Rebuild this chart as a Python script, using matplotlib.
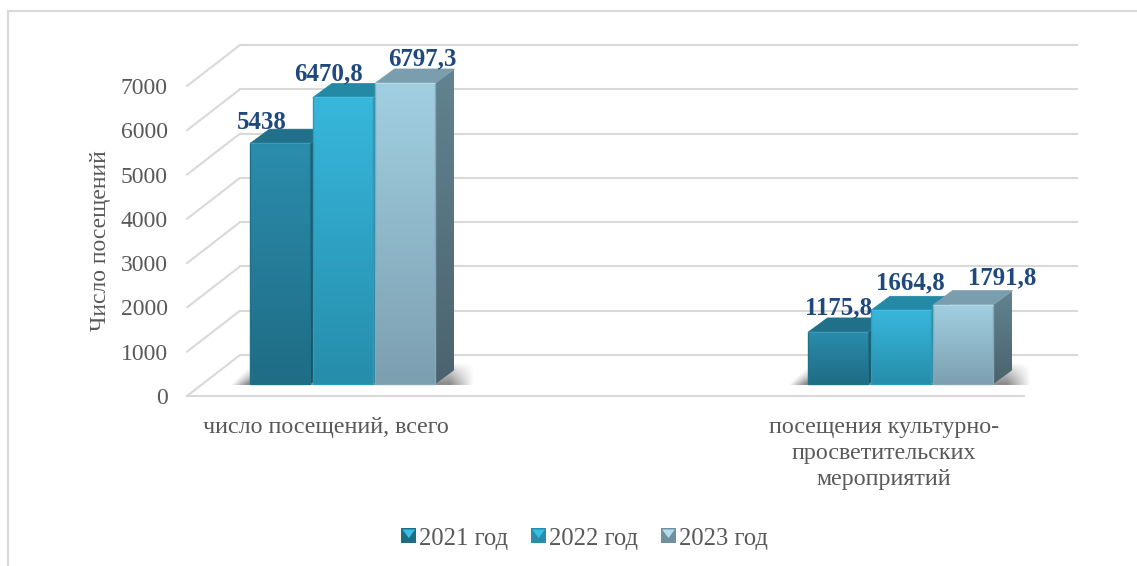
import numpy as np
import matplotlib
matplotlib.use("Agg")
import matplotlib.pyplot as plt
from matplotlib.colors import LinearSegmentedColormap
from matplotlib.lines import Line2D
from matplotlib.patches import Polygon, Patch, Rectangle
from matplotlib.legend_handler import HandlerPatch

categories = ["число посещений, всего",
              "посещения культурно-\nпросветительских\nмероприятий"]
series_names = ["2021 год", "2022 год", "2023 год"]
values_2021 = [5438, 1175.8]
values_2022 = [6470.8, 1664.8]
values_2023 = [6797.3, 1791.8]
value_labels = [["5438", "1175,8"], ["6470,8", "1664,8"], ["6797,3", "1791,8"]]
y_ticks = [0, 1000, 2000, 3000, 4000, 5000, 6000, 7000]
y_title = "Число посещений"

W, H = 1137, 566
L, R, B, T = 187, 1077, 396, 45
PX_X = 558.0
PX_Y = 310 / 7000
GRID = "#D9D9D9"
TXT = "#595959"
LAB = "#1F497D"
FONT = "Liberation Serif"

styles = [
    dict(ft="#2B8DAC", fb="#1F6C85", top="#1F7088", st="#1C6078", sb="#164E62", edge="#1F7188", hi="#3A9AB8"),
    dict(ft="#37B7DC", fb="#268DAB", top="#2489A5", st="#2489A5", sb="#1E7A94", edge="#2A9CBC", hi="#45C0E2"),
    dict(ft="#A1D0E2", fb="#7C9FB0", top="#7A9EAD", st="#628391", sb="#4B636E", edge="#86A9B8", hi="#B4DCEA"),
]

plt.rcParams["font.family"] = [FONT, "DejaVu Serif"]
fig = plt.figure(figsize=(W / 100, H / 100), dpi=100, facecolor="white")
ax = fig.add_axes([L / W, 1 - B / H, (R - L) / W, (B - T) / H])
x0 = 326.0
ax.set_xlim((L - x0) / PX_X, (R - x0) / PX_X)
ax.set_ylim(0, (B - T) / PX_Y)
for s in ax.spines.values():
    s.set_visible(False)
ax.patch.set_visible(False)
xlim, ylim = ax.get_xlim(), ax.get_ylim()


def dx(p):
    return p / PX_X


def dy(p):
    return p / PX_Y


# walls and floor
DEPTH_X, DEPTH_Y = 53, 41
gx0 = ax.get_xlim()[0]
for v in y_ticks:
    ax.plot([gx0, gx0 + dx(DEPTH_X)], [v, v + dy(DEPTH_Y)], color=GRID, lw=1.5,
            clip_on=False, zorder=1, solid_capstyle="round")
    ax.plot([gx0 + dx(DEPTH_X), xlim[1]], [v + dy(DEPTH_Y)] * 2, color=GRID, lw=1.5,
            clip_on=False, zorder=1)
ax.plot([gx0, (1024 - x0) / PX_X], [0, 0], color=GRID, lw=1.5, clip_on=False, zorder=1)


def grad(c1, c2):
    return LinearSegmentedColormap.from_list("g", [c1, c2])


def face(pts, extent, c_top, c_bottom, z):
    g = np.linspace(0, 1, 128).reshape(-1, 1)
    im = ax.imshow(g, cmap=grad(c_top, c_bottom), extent=extent, origin="upper",
                   aspect="auto", interpolation="bilinear", zorder=z)
    poly = Polygon(pts, closed=True, transform=ax.transData, fc="none", ec="none")
    ax.add_patch(poly)
    im.set_clip_path(poly)


BASE = dy(12)
BAR_W = dx(60)
STEP = dx(62.5)
SHIFT = dx(18.2)
SX, SY = dx(19), dy(14)
series = [values_2021, values_2022, values_2023]
label_offsets = [[(-19, 21), (0, 24)], [(-14, 24), (9, 27)], [(17, 24), (39, 27)]]

# soft floor shadows
for c in range(len(categories)):
    left = c + SHIFT - 1.5 * STEP
    right = left + 2 * STEP + BAR_W
    xs = np.linspace(left - dx(18), right + dx(40), 300)
    ys = np.linspace(BASE - dy(1.5), BASE + dy(20), 60)
    X, Y = np.meshgrid(xs, ys)
    u = (Y - BASE) / dy(20)
    fx = np.clip((X - (left - dx(18) + u * dx(20))) / dx(16), 0, 1) * \
        np.clip(((right + dx(38)) - X) / dx(24), 0, 1)
    fy = np.clip((1 - u), 0, 1) ** 0.8
    rgba = np.zeros(X.shape + (4,))
    rgba[..., :3] = 0.25
    rgba[..., 3] = 0.6 * fx * fy
    ax.imshow(rgba, extent=[xs[0], xs[-1], ys[0], ys[-1]], origin="lower", aspect="auto",
              interpolation="bilinear", zorder=2)

# bars
for c in range(len(categories)):
    for i, vals in enumerate(series):
        st = styles[i]
        v = vals[c]
        a = c + SHIFT + (i - 1.5) * STEP
        b = a + BAR_W
        z = 3 + i * 0.1 + c
        bot, top = BASE, BASE + v
        # side
        side = [(b, bot), (b + SX, bot + SY), (b + SX, top + SY), (b, top)]
        face(side, [b, b + SX, bot, top + SY], st["st"], st["sb"], z)
        # top
        ax.add_patch(Polygon([(a, top), (a + SX, top + SY), (b + SX, top + SY), (b, top)],
                             closed=True, fc=st["top"], ec=st["top"], lw=0.5, zorder=z,
                             joinstyle="round"))
        # front
        front = [(a, bot), (b, bot), (b, top), (a, top)]
        face(front, [a, b, bot, top], st["ft"], st["fb"], z + 0.01)
        ax.add_patch(Rectangle((a, bot), BAR_W, v, fc="none", ec=st["edge"], lw=1.0, zorder=z + 0.02))
        ax.plot([a, b], [top, top], color=st["hi"], lw=1.0, zorder=z + 0.03, solid_capstyle="butt")

# value labels
for i, vals in enumerate(series):
    for c, v in enumerate(vals):
        a = c + SHIFT + (i - 1.5) * STEP + BAR_W / 2
        ox, oy = label_offsets[i][c]
        ax.annotate(value_labels[i][c], (a, BASE + v), xytext=(ox * 0.72, oy * 0.72),
                    textcoords="offset points", ha="center", va="center", fontsize=17.9,
                    fontweight="bold", color=LAB, zorder=20, annotation_clip=False)

ax.set_xlim(xlim)
ax.set_ylim(ylim)
ax.set_yticks(y_ticks)
ax.set_yticklabels([str(v) for v in y_ticks], fontsize=17, color=TXT)
ax.set_xticks(range(len(categories)))
ax.set_xticklabels(categories, fontsize=17.3, color=TXT, linespacing=1.32)
ax.tick_params(axis="y", length=0, pad=14)
ax.tick_params(axis="x", length=0, pad=15)
ax.set_ylabel(y_title, fontsize=17, color=TXT)
ax.yaxis.set_label_coords((111 - L) / (R - L), (B - 241) / (B - T))


class BevelHandler(HandlerPatch):
    def create_artists(self, legend, orig, xd, yd, w, h, fs, trans):
        col = orig.get_facecolor()
        dark = orig.get_edgecolor()
        y0, x0_, s = -yd, -xd, h
        p = lambda pts: Polygon(pts, closed=True, transform=trans, lw=0)
        sq = p([(x0_, y0), (x0_ + s, y0), (x0_ + s, y0 + s), (x0_, y0 + s)])
        sq.set_facecolor(dark)
        tri = p([(x0_ + s * 0.08, y0 + s * 0.92), (x0_ + s * 0.92, y0 + s * 0.92), (x0_ + s / 2, y0 + s * 0.35)])
        tri.set_facecolor(col)
        return [sq, tri]


handles = [Patch(fc=c, ec=e, label=n) for c, e, n in zip(
    ["#38BFE4", "#38BFE4", "#B4DCEA"], ["#1F6C85", "#268DAB", "#6F909F"], series_names)]
leg = fig.legend(handles=handles, loc="center", bbox_to_anchor=(584.5 / W, 1 - 538.5 / H), ncols=3,
                 frameon=False, fontsize=17.7, labelcolor=TXT, handlelength=0.57, handleheight=0.57,
                 handletextpad=0.16, columnspacing=0.93, borderpad=0,
                 handler_map={Patch: BevelHandler()})

# chart frame
fig.add_artist(Line2D([8 / W, 1], [1 - 10.5 / H] * 2, color=GRID, lw=1.5))
fig.add_artist(Line2D([8 / W, 8 / W], [0, 1 - 10.5 / H], color=GRID, lw=1.5))

fig.savefig("out.png", dpi=100, facecolor="white")
